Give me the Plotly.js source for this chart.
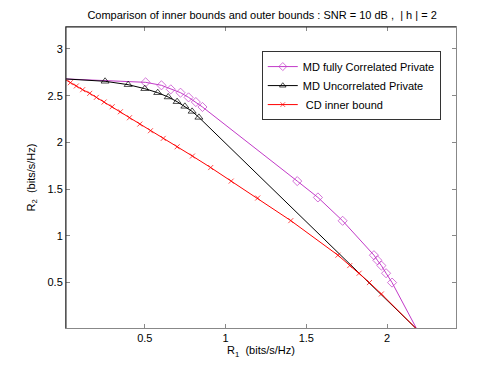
<!DOCTYPE html>
<html>
<head>
<meta charset="utf-8">
<script src="https://cdn.plot.ly/plotly-3.0.1.min.js"></script>
<style>html,body{margin:0;padding:0;background:#fff;}#chart{width:504px;height:369px;}</style>
</head>
<body>
<div id="chart"></div>
<script>
// MD fully Correlated Private
const mdCorrX = [0, 0.505, 0.603, 0.661, 0.721, 0.771, 0.816, 0.857, 1.444, 1.572, 1.725, 1.919, 1.94, 1.965, 1.994, 2.031, 2.185];
const mdCorrY = [2.68, 2.643, 2.611, 2.568, 2.532, 2.482, 2.432, 2.379, 1.586, 1.411, 1.161, 0.793, 0.739, 0.682, 0.6, 0.5, 0];
// MD Uncorrelated Private
const mdUncX = [0, 0.254, 0.397, 0.5, 0.58, 0.645, 0.70, 0.748, 0.793, 0.835, 2.185];
const mdUncY = [2.68, 2.654, 2.618, 2.575, 2.532, 2.486, 2.436, 2.386, 2.332, 2.268, 0];
// CD inner bound
const cdX = [0, 0.039, 0.076, 0.115, 0.159, 0.2, 0.248, 0.298, 0.349, 0.405, 0.469, 0.535, 0.614, 0.70, 0.795, 0.908, 1.035, 1.199, 1.404, 1.696, 1.769, 1.827, 1.891, 1.965, 2.185];
const cdY = [2.68, 2.639, 2.604, 2.564, 2.525, 2.482, 2.432, 2.382, 2.328, 2.264, 2.196, 2.125, 2.043, 1.953, 1.854, 1.731, 1.586, 1.405, 1.163, 0.793, 0.682, 0.6, 0.5, 0.378, 0];

const seriesNames = ['MD fully Correlated Private', 'MD Uncorrelated Private', ' CD inner bound'];
const xTicks = [0.5, 1, 1.5, 2];
const yTicks = [0.5, 1, 1.5, 2, 2.5, 3];

function sizes(arr, s) { return arr.map((v, i) => (i === 0 || i === arr.length - 1) ? 0 : s); }

const magenta = '#c23ac8';
const traces = [
  {x: mdCorrX, y: mdCorrY, name: seriesNames[0], mode: 'lines+markers',
   line: {color: magenta, width: 1},
   marker: {symbol: 'diamond-open', size: sizes(mdCorrX, 7), color: magenta, line: {color: magenta, width: 1}}},
  {x: mdUncX, y: mdUncY, name: seriesNames[1], mode: 'lines+markers',
   line: {color: '#000', width: 1},
   marker: {symbol: 'triangle-up-open', size: sizes(mdUncX, 7), color: '#000', line: {color: '#000', width: 1}}},
  {x: cdX, y: cdY, name: seriesNames[2], mode: 'lines+markers',
   line: {color: '#ff0000', width: 1},
   marker: {symbol: 'x-thin-open', size: sizes(cdX, 5), color: '#ff0000', line: {color: '#ff0000', width: 1}}}
];

const font = {family: 'Liberation Sans, Arial, sans-serif', size: 11, color: '#000'};
const layout = {
  width: 504, height: 369,
  margin: {l: 65.5, r: 48.3, t: 27, b: 41.3, pad: 0},
  paper_bgcolor: '#fff', plot_bgcolor: '#fff',
  font: font,
  showlegend: true,
  title: {text: 'Comparison of inner bounds and outer bounds : SNR = 10 dB ,  | h | = 2',
          font: {family: font.family, size: 11, color: '#000'}, x: 0.52, xanchor: 'center', y: 0.96, yanchor: 'middle'},
  xaxis: {range: [0.012, 2.427], tickvals: xTicks, ticktext: xTicks.map(String),
          ticks: 'inside', ticklen: 4, tickcolor: '#888', showline: true, linecolor: '#888', linewidth: 1,
          mirror: 'ticks', showgrid: false, zeroline: false,
          title: {text: 'R<sub>1</sub>  (bits/s/Hz)', font: font, standoff: 3}},
  yaxis: {range: [0.014, 3.235], tickvals: yTicks, ticktext: yTicks.map(String),
          ticks: 'inside', ticklen: 4, tickcolor: '#888', showline: true, linecolor: '#888', linewidth: 1,
          mirror: 'ticks', showgrid: false, zeroline: false,
          title: {text: 'R<sub>2</sub>  (bits/s/Hz)', font: font, standoff: 9}},
  legend: {x: 0.502, y: 0.92, xanchor: 'left', yanchor: 'top', bgcolor: '#fff',
           bordercolor: '#333', borderwidth: 1, font: font, tracegroupgap: 0, itemwidth: 30},
  shapes: [
    {type: 'line', xref: 'paper', yref: 'paper', x0: 0, x1: 0, y0: 0, y1: 1, line: {color: '#222', width: 1}},
    {type: 'line', xref: 'paper', yref: 'paper', x0: 0, x1: 1, y0: 1, y1: 1, line: {color: '#222', width: 1}}
  ]
};

Plotly.newPlot('chart', traces, layout, {staticPlot: true, displayModeBar: false});
</script>
</body>
</html>
